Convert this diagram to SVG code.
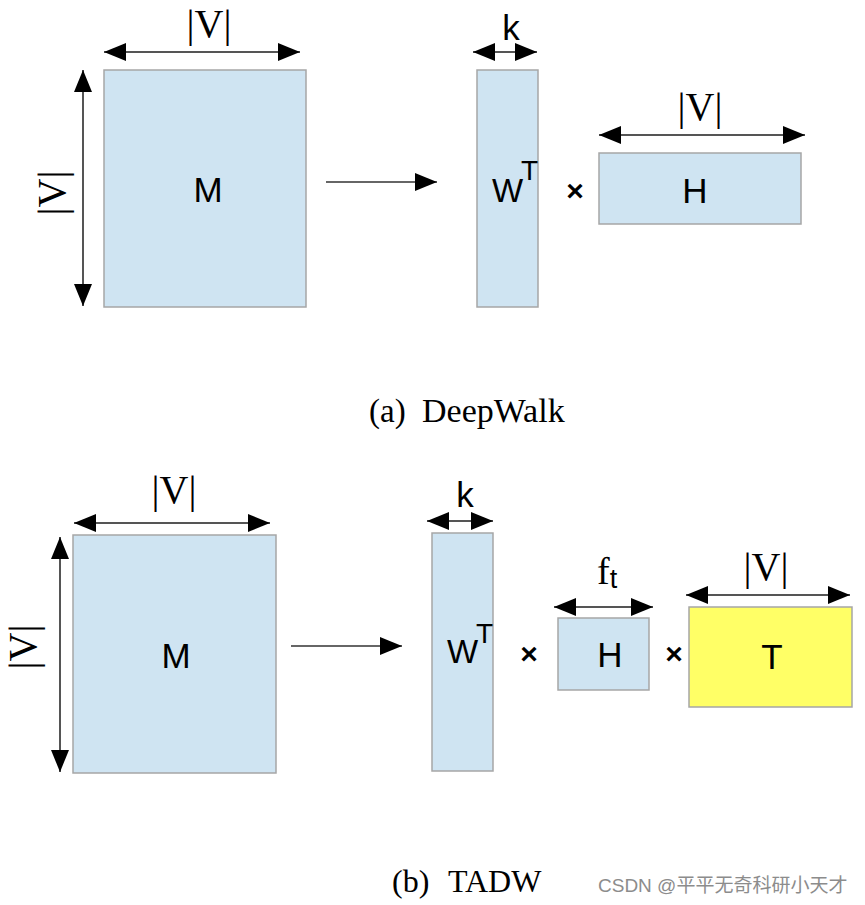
<svg xmlns="http://www.w3.org/2000/svg" width="865" height="905" viewBox="0 0 865 905">
<style>
.mat{fill:#cfe4f2;stroke:#a6a6a6;stroke-width:1.5}
.yel{fill:#ffff66;stroke:#a6a6a6;stroke-width:1.5}
.sans{font-family:"Liberation Sans",Arial,sans-serif;fill:#000}
.serif{font-family:"Liberation Serif","Times New Roman",serif;fill:#000}
.x{font-family:"Liberation Sans",Arial,sans-serif;fill:#000;font-weight:bold;font-size:30px}
.dim{stroke:#555;stroke-width:2;fill:none;marker-start:url(#ah);marker-end:url(#ah)}
.flow{stroke:#333;stroke-width:1.5;fill:none;marker-end:url(#ah)}
</style>
<defs>
<marker id="ah" markerUnits="userSpaceOnUse" markerWidth="22" markerHeight="18" refX="22" refY="9" orient="auto-start-reverse">
<path d="M0,0 L22,9 L0,18 z" fill="#000"/>
</marker>
</defs>
<rect width="865" height="905" fill="#fff"/>

<g id="top-M">
<rect class="mat" x="104" y="70" width="202" height="237"/>
<text class="sans" x="208" y="202" font-size="35" text-anchor="middle">M</text>
</g>
<g id="top-WT">
<rect class="mat" x="477" y="70" width="61" height="237"/>
<text class="sans" x="492" y="202" font-size="33">W</text>
<text class="sans" x="521" y="180" font-size="28">T</text>
</g>
<g id="top-times">
<text class="x" x="575" y="201" text-anchor="middle">×</text>
</g>
<g id="top-H">
<rect class="mat" x="599" y="153" width="202" height="71"/>
<text class="sans" x="695" y="203" font-size="35" text-anchor="middle">H</text>
</g>

<g id="bot-M">
<rect class="mat" x="73" y="535" width="203" height="238"/>
<text class="sans" x="176" y="668" font-size="35" text-anchor="middle">M</text>
</g>
<g id="bot-WT">
<rect class="mat" x="432" y="533" width="61" height="238"/>
<text class="sans" x="447" y="663" font-size="33">W</text>
<text class="sans" x="476" y="643" font-size="28">T</text>
</g>
<g id="bot-times1">
<text class="x" x="529" y="664" text-anchor="middle">×</text>
</g>
<g id="bot-H">
<rect class="mat" x="558" y="618" width="91" height="72"/>
<text class="sans" x="610" y="667" font-size="35" text-anchor="middle">H</text>
</g>
<g id="bot-times2">
<text class="x" x="674" y="664" text-anchor="middle">×</text>
</g>
<g id="bot-T">
<rect class="yel" x="689" y="607" width="163" height="100"/>
<text class="sans" x="772" y="669" font-size="35" text-anchor="middle">T</text>
</g>

<g id="connectors">
<line class="dim" x1="104" y1="52" x2="300" y2="52"/>
<line class="dim" x1="83" y1="70" x2="83" y2="306"/>
<line class="flow" x1="326" y1="182" x2="437" y2="182"/>
<line class="dim" x1="473" y1="52" x2="537" y2="52"/>
<line class="dim" x1="599" y1="135" x2="805" y2="135"/>

<line class="dim" x1="74" y1="523" x2="270" y2="523"/>
<line class="dim" x1="60" y1="537" x2="60" y2="772"/>
<line class="flow" x1="291" y1="646" x2="402" y2="646"/>
<line class="dim" x1="427" y1="521" x2="493" y2="521"/>
<line class="dim" x1="554" y1="607" x2="653" y2="607"/>
<line class="dim" x1="686" y1="595" x2="850" y2="595"/>
</g>

<g id="labels">
<text class="serif" x="209" y="37" font-size="40" text-anchor="middle">|V|</text>
<text class="serif" transform="translate(65,193) rotate(-90)" font-size="40" text-anchor="middle">|V|</text>
<text class="sans" x="511" y="40" font-size="35" text-anchor="middle">k</text>
<text class="serif" x="700" y="120" font-size="40" text-anchor="middle">|V|</text>

<text class="serif" x="174" y="503" font-size="40" text-anchor="middle">|V|</text>
<text class="serif" transform="translate(36,647) rotate(-90)" font-size="40" text-anchor="middle">|V|</text>
<text class="sans" x="465" y="507" font-size="35" text-anchor="middle">k</text>
<text class="serif" x="597" y="584" font-size="38">f<tspan font-family="Liberation Sans, Arial, sans-serif" font-size="27" dy="4">t</tspan></text>
<text class="serif" x="766" y="580" font-size="40" text-anchor="middle">|V|</text>
</g>

<g id="captions">
<text class="serif" x="369" y="422" font-size="33">(a)</text>
<text class="serif" x="422" y="422" font-size="34">DeepWalk</text>
<text class="serif" x="392" y="892" font-size="32">(b)</text>
<text class="serif" x="448" y="892" font-size="32">TADW</text>
<text x="598" y="892" font-size="19" fill="#8c8c8c" font-family="Liberation Sans, Arial, 'Noto Sans CJK SC', sans-serif">CSDN @平平无奇科研小天才</text>
</g>
</svg>
